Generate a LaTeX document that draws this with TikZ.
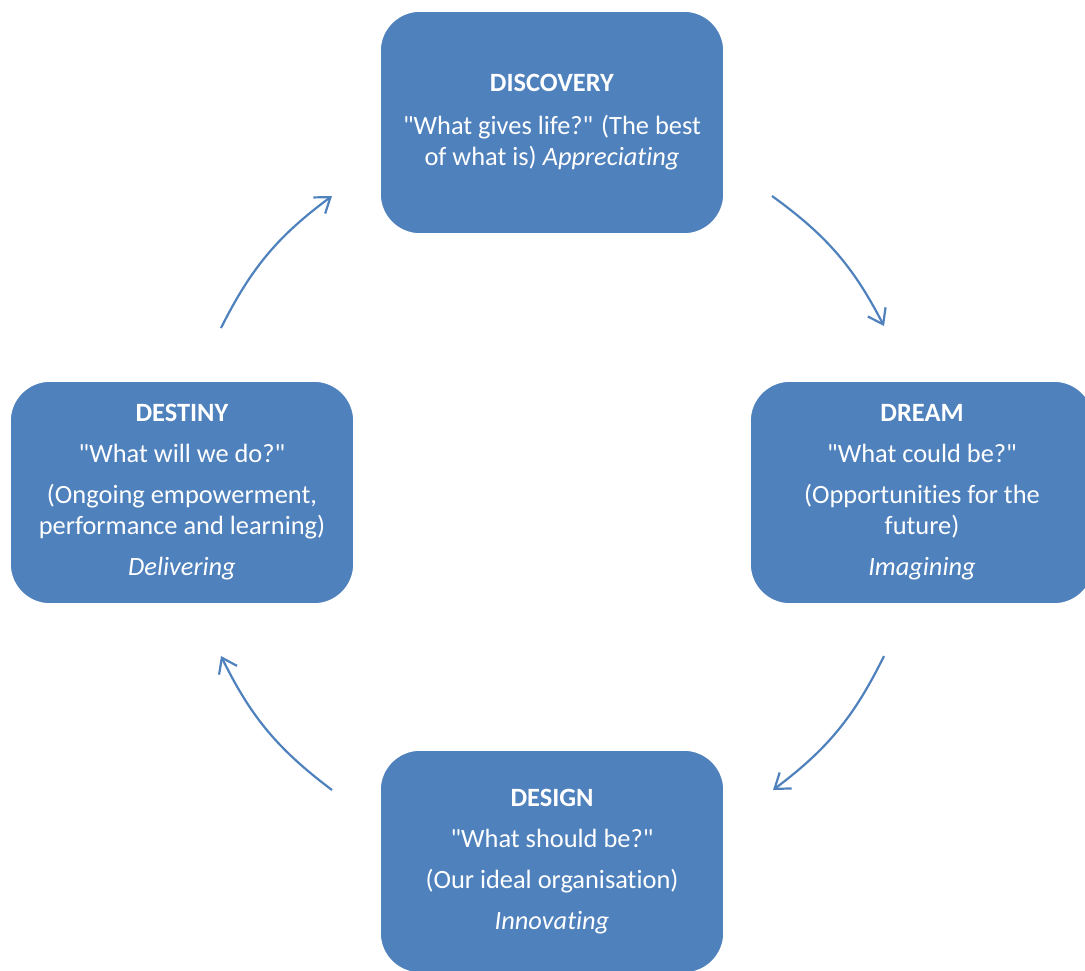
\documentclass[tikz,border=0pt]{standalone}
\usepackage{fontspec}
\setmainfont{Carlito}[Ligatures=NoCommon]
\usetikzlibrary{arrows.meta}
\definecolor{phaseblue}{HTML}{4F81BD}
\newcommand{\qt}[1]{\textquotedbl#1\textquotedbl}

\begin{document}
\begin{tikzpicture}[x=0.5pt, y=-0.5pt,
    phase/.style={draw=white, line width=0.8pt, fill=phaseblue, text=white,
      rounded corners=20pt, minimum width=172pt, minimum height=111.5pt,
      align=center, font=\fontsize{13.2}{15.5}\selectfont},
    cycle/.style={draw=phaseblue, line width=1.1pt,
      -{Straight Barb[length=7pt, width=10pt]}}]
      \useasboundingbox (0, 0) rectangle (1085, 970);
      \node[phase] (discovery) at (552, 122.5) {\textbf{DISCOVERY}\\[6pt]
        \qt{What gives life?} (The best\\of what is) \textit{Appreciating}};
      \node[phase] (dream) at (922, 492.5) {\textbf{DREAM}\\[5pt]
        \qt{What could be?}\\[5pt]
        (Opportunities for the\\future)\\[5pt]
        \textit{Imagining}};
      \node[phase] (design) at (552, 861.5) {\textbf{DESIGN}\\[5pt]
        \qt{What should be?}\\[5pt]
        (Our ideal organisation)\\[5pt]
        \textit{Innovating}};
      \node[phase] (destiny) at (182, 492.5) {\textbf{DESTINY}\\[5pt]
        \qt{What will we do?}\\[5pt]
        (Ongoing empowerment,\\performance and learning)\\[5pt]
        \textit{Delivering}};
      % arrow ends round the cycle
      \coordinate (discovery-out) at (772, 196);
      \coordinate (dream-in) at (884, 326);
      \coordinate (dream-out) at (884, 656);
      \coordinate (design-in) at (773, 790);
      \coordinate (design-out) at (332, 790);
      \coordinate (destiny-in) at (221, 656);
      \coordinate (destiny-out) at (221, 328);
      \coordinate (discovery-in) at (332, 196);
      \draw[cycle] (discovery-out) to[bend left=13.4] (dream-in);
      \draw[cycle] (dream-out) to[bend left=13.4] (design-in);
      \draw[cycle] (design-out) to[bend left=13.4] (destiny-in);
      \draw[cycle] (destiny-out) to[bend left=13.4] (discovery-in);
    \end{tikzpicture}
\end{document}
